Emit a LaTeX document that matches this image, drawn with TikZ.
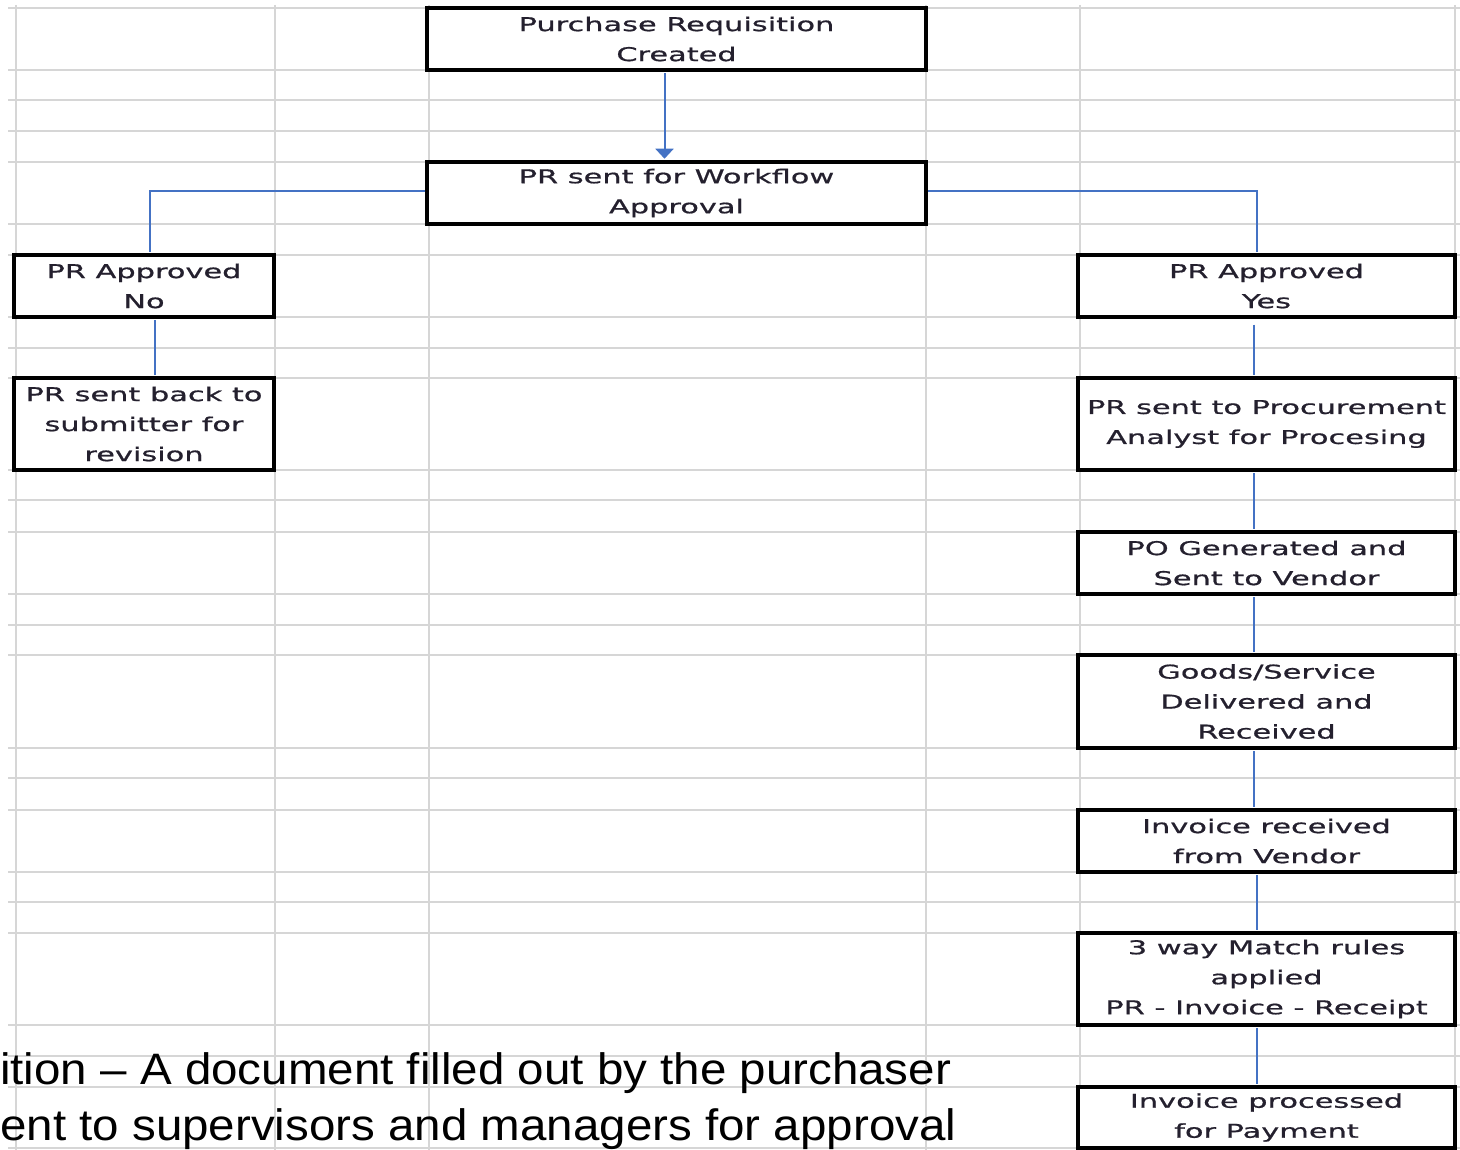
\documentclass[tikz,border=0pt]{standalone}
\usepackage{fontspec}
\usetikzlibrary{arrows.meta}
\newfontfamily\boxfont[FakeStretch=1.6,FakeBold=0.8]{DejaVu Sans}
\newfontfamily\notefont[FakeStretch=1.08]{Liberation Sans}
\definecolor{gridgray}{HTML}{D6D6D6}
\definecolor{conblue}{HTML}{4472C4}
\definecolor{boxtext}{HTML}{24202E}
\tikzset{
  flowbox/.style={draw=black, line width=3.5pt, fill=white, inner sep=0pt,
    align=center, text=boxtext, font=\boxfont\fontsize{19}{30}\selectfont},
  conn/.style={draw=conblue, line width=2pt},
  gridline/.style={draw=gridgray, line width=2pt},
  note/.style={anchor=base west, inner sep=0pt, text=black,
    font=\notefont\fontsize{44}{56}\selectfont}
}
\begin{document}
\begin{tikzpicture}[x=1pt,y=-1pt]
\useasboundingbox[fill=white] (0,0) rectangle (1460,1150);
% spreadsheet grid
\foreach \yy in {8,70,100,131,162,224,255,317,348,378,470,500,532,594,625,655,748,778,810,872,902,933,1025,1056,1087,1148}
  \draw[gridline] (8,\yy) -- (1460,\yy);
\foreach \xx in {16,275,429,926,1080,1455}
  \draw[gridline] (\xx,5) -- (\xx,1150);
% boxes
\node[flowbox, minimum width=499pt, minimum height=62pt] (b1) at (676.5,39) {Purchase Requisition\\Created};
\node[flowbox, minimum width=499pt, minimum height=62pt] (b2) at (676.5,193) {PR sent for Workflow\\Approval};
\node[flowbox, minimum width=260pt, minimum height=62pt] (no) at (144,286) {PR Approved\\No};
\node[flowbox, minimum width=260pt, minimum height=92pt] (back) at (144,424) {PR sent back to\\submitter for\\revision};
\node[flowbox, minimum width=377pt, minimum height=62pt] (yes) at (1266.5,286) {PR Approved\\Yes};
\node[flowbox, minimum width=377pt, minimum height=92pt] (proc) at (1266.5,424) {PR sent to Procurement\\Analyst for Procesing};
\node[flowbox, minimum width=377pt, minimum height=62pt] (po) at (1266.5,563) {PO Generated and\\Sent to Vendor};
\node[flowbox, minimum width=377pt, minimum height=93pt] (goods) at (1266.5,701.5) {Goods/Service\\Delivered and\\Received};
\node[flowbox, minimum width=377pt, minimum height=62pt] (inv) at (1266.5,841) {Invoice received\\from Vendor};
\node[flowbox, minimum width=377pt, minimum height=92pt] (match) at (1266.5,979) {3 way Match rules\\applied\\PR - Invoice - Receipt};
\node[flowbox, minimum width=377pt, minimum height=61pt] (pay) at (1266.5,1117.5) {Invoice processed\\for Payment};
% connectors
\draw[conn, -{Triangle[width=18pt,length=10pt]}] ([xshift=-12pt,yshift=-1.5pt]b1.south) -- ([xshift=-12pt,yshift=1.5pt]b2.north);
\draw[conn] ([yshift=2pt]b2.west) -| ([xshift=6pt,yshift=1.5pt]no.north);
\draw[conn] ([yshift=2pt]b2.east) -| ([xshift=-10pt,yshift=1.5pt]yes.north);
\draw[conn] ([xshift=11pt,yshift=-1.5pt]no.south) -- ([xshift=11pt,yshift=1.5pt]back.north);
\draw[conn] ([xshift=-13pt,yshift=-6pt]yes.south) -- ([xshift=-13pt,yshift=1.5pt]proc.north);
\draw[conn] ([xshift=-13pt,yshift=-1.5pt]proc.south) -- ([xshift=-13pt,yshift=1.5pt]po.north);
\draw[conn] ([xshift=-13pt,yshift=-1.5pt]po.south) -- ([xshift=-13pt,yshift=1.5pt]goods.north);
\draw[conn] ([xshift=-13pt,yshift=-1.5pt]goods.south) -- ([xshift=-13pt,yshift=1.5pt]inv.north);
\draw[conn] ([xshift=-10pt,yshift=-1.5pt]inv.south) -- ([xshift=-10pt,yshift=1.5pt]match.north);
\draw[conn] ([xshift=-10pt,yshift=-1.5pt]match.south) -- ([xshift=-10pt,yshift=1.5pt]pay.north);
% note text (cut at the left edge)
\node[note] (n1) at (0,1084) {ition – A document filled out by the purchaser};
\node[note] (n2) at (0,1140) {ent to supervisors and managers for approval};
\end{tikzpicture}
\end{document}
